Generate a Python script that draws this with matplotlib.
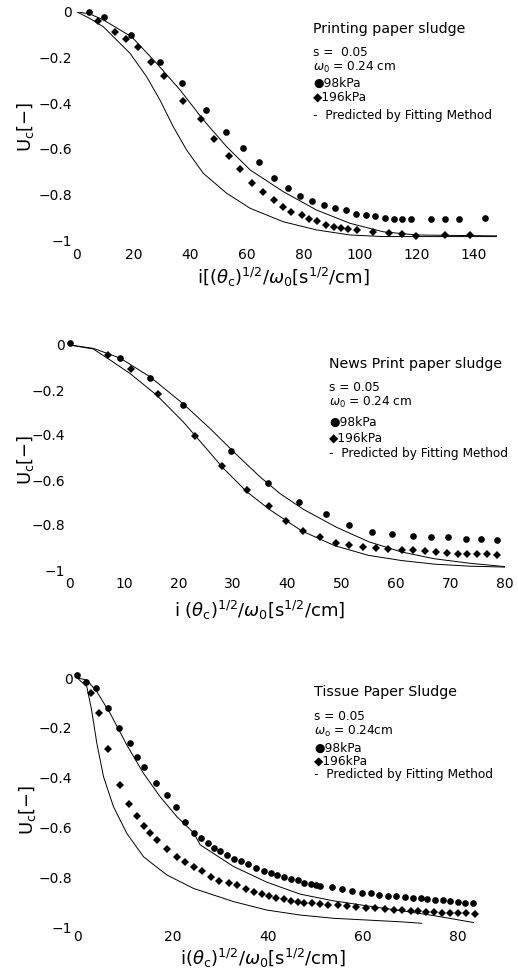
import matplotlib
matplotlib.use("Agg")
import matplotlib.pyplot as plt

plt.rcParams['font.family'] = ['DejaVu Sans']
plt.rcParams['mathtext.fontset'] = 'dejavusans'

# Printing paper sludge
p1_98_x = [4.5, 9.8, 19.2, 29.4, 37.1, 45.5, 52.6, 58.8, 64.5, 69.6, 74.5, 78.9, 83.2, 87.3,
           91.2, 94.9, 98.6, 102.0, 105.4, 108.7, 112.0, 114.9, 117.9, 125.1, 130.0, 134.9, 144.2]
p1_98_y = [0, -0.025, -0.102, -0.22, -0.311, -0.431, -0.526, -0.599, -0.66, -0.727, -0.771, -0.806,
           -0.829, -0.845, -0.861, -0.87, -0.886, -0.892, -0.896, -0.902, -0.907, -0.907, -0.907,
           -0.907, -0.907, -0.907, -0.905]
p1_196_x = [7.4, 13.5, 17.5, 21.6, 26.1, 30.7, 37.4, 43.8, 48.6, 53.8, 57.6, 61.8, 65.9, 69.6,
            72.7, 75.8, 79.6, 82.1, 84.9, 88.0, 90.8, 93.2, 95.9, 98.8, 104.7, 110.3, 114.9,
            119.8, 130.0, 138.8]
p1_196_y = [-0.039, -0.089, -0.119, -0.153, -0.222, -0.282, -0.391, -0.472, -0.559, -0.631, -0.69,
            -0.749, -0.791, -0.825, -0.854, -0.876, -0.892, -0.909, -0.915, -0.933, -0.942, -0.946,
            -0.953, -0.956, -0.964, -0.968, -0.974, -0.982, -0.978, -0.98]
p1_fit98_x = [0, 4.7, 9.4, 19.4, 28.2, 36.5, 44.7, 52.9, 61.2, 72.9, 84.7, 96.5, 108.2, 120, 148.2]
p1_fit98_y = [0, -0.01, -0.036, -0.11, -0.226, -0.343, -0.474, -0.591, -0.693, -0.788, -0.869,
              -0.927, -0.964, -0.978, -0.982]
p1_fit196_x = [0, 4.7, 9.4, 18.8, 24.7, 29.4, 34.1, 38.8, 44.7, 52.9, 61.2, 72.9, 84.7, 96.5,
               108.2, 148.2]
p1_fit196_y = [0, -0.03, -0.066, -0.182, -0.285, -0.387, -0.504, -0.606, -0.708, -0.795, -0.861,
               -0.92, -0.956, -0.978, -0.985, -0.985]

# News print paper sludge
p2_98_x = [0, 9.2, 14.7, 20.8, 29.6, 36.5, 42.1, 47.0, 51.3, 55.6, 59.3, 63.0, 66.3, 69.6, 72.8,
           75.6, 78.5]
p2_98_y = [0.01, -0.059, -0.148, -0.267, -0.471, -0.615, -0.696, -0.751, -0.80, -0.83, -0.841,
           -0.847, -0.852, -0.855, -0.861, -0.864, -0.867]
p2_196_x = [7.0, 11.2, 16.1, 23.0, 28.0, 32.6, 36.6, 39.7, 42.9, 46.0, 48.9, 51.4, 53.8, 56.3,
            58.5, 61.0, 63.0, 65.2, 67.3, 69.3, 71.3, 73.1, 74.9, 76.7, 78.5]
p2_196_y = [-0.044, -0.107, -0.216, -0.403, -0.538, -0.646, -0.714, -0.782, -0.825, -0.855, -0.879,
            -0.89, -0.899, -0.904, -0.908, -0.911, -0.913, -0.916, -0.919, -0.923, -0.929, -0.93,
            -0.93, -0.93, -0.933]
p2_fit98_x = [0, 4.3, 9.2, 14.7, 20.8, 25.7, 30.7, 34.9, 38.6, 42.9, 49.0, 55.0, 61.0, 67.0, 73.5, 80]
p2_fit98_y = [0, -0.015, -0.058, -0.141, -0.261, -0.37, -0.489, -0.585, -0.66, -0.73, -0.81,
              -0.875, -0.92, -0.95, -0.97, -0.985]
p2_fit196_x = [0, 4.3, 7.4, 11.0, 15.9, 20.8, 24.5, 28.2, 32.5, 36.8, 42.6, 48.7, 54.9, 61.0,
               67.0, 73.5, 80]
p2_fit196_y = [0, -0.018, -0.067, -0.126, -0.222, -0.341, -0.444, -0.548, -0.652, -0.733, -0.826,
               -0.892, -0.935, -0.958, -0.974, -0.983, -0.987]

# Tissue paper sludge
p3_98_x = [0, 1.8, 3.9, 6.5, 8.8, 11.1, 12.6, 14.1, 16.5, 18.8, 20.7, 22.6, 24.4, 26.0, 27.5,
           28.8, 29.9, 31.4, 32.8, 34.3, 35.9, 37.6, 39.2, 40.6, 42.0, 43.4, 44.8, 46.3, 47.6,
           49.0, 50.2, 50.9, 53.4, 55.5, 57.6, 59.7, 61.6, 63.4, 65.3, 67.0, 68.8, 70.5, 72.1,
           73.5, 75.1, 76.7, 78.2, 80.0, 81.4, 83.0]
p3_98_y = [0.012, -0.015, -0.041, -0.122, -0.202, -0.26, -0.316, -0.359, -0.42, -0.47, -0.517,
           -0.58, -0.624, -0.644, -0.661, -0.684, -0.695, -0.711, -0.725, -0.736, -0.745, -0.764,
           -0.775, -0.783, -0.791, -0.80, -0.807, -0.812, -0.823, -0.828, -0.831, -0.836, -0.841,
           -0.849, -0.856, -0.863, -0.865, -0.871, -0.876, -0.877, -0.881, -0.884, -0.885, -0.888,
           -0.892, -0.893, -0.897, -0.90, -0.903, -0.905]
p3_196_x = [2.8, 4.6, 6.5, 9.0, 10.9, 12.6, 14.1, 15.3, 16.7, 18.9, 20.9, 22.6, 24.4, 26.1, 28.0,
            29.8, 31.8, 33.6, 35.4, 37.1, 38.7, 40.3, 41.8, 43.4, 44.8, 46.3, 47.6, 49.2, 50.9,
            52.7, 54.7, 56.7, 58.6, 60.7, 62.6, 64.6, 66.5, 68.2, 70.0, 71.6, 73.3, 74.9, 76.5,
            78.2, 80.0, 81.7, 83.5]
p3_196_y = [-0.062, -0.139, -0.286, -0.43, -0.508, -0.554, -0.593, -0.624, -0.651, -0.688, -0.72,
            -0.74, -0.758, -0.775, -0.798, -0.814, -0.823, -0.833, -0.847, -0.86, -0.867, -0.876,
            -0.883, -0.889, -0.895, -0.901, -0.903, -0.905, -0.909, -0.912, -0.913, -0.916, -0.919,
            -0.924, -0.924, -0.929, -0.932, -0.933, -0.936, -0.937, -0.938, -0.94, -0.943, -0.943,
            -0.944, -0.945, -0.947]
p3_fit98_x = [0, 2.0, 4.1, 6.9, 10.4, 13.9, 17.4, 20.9, 24.4, 25.8, 32.8, 39.8, 46.8, 53.8, 60.8,
              67.8, 74.8, 83.2]
p3_fit98_y = [0, -0.008, -0.055, -0.142, -0.269, -0.383, -0.477, -0.557, -0.621, -0.67, -0.757,
              -0.82, -0.868, -0.895, -0.915, -0.934, -0.954, -0.982]
p3_fit196_x = [0, 2.0, 3.0, 4.1, 5.5, 7.6, 10.4, 13.9, 18.8, 24.4, 32.8, 39.8, 46.8, 53.8, 60.8,
               67.8, 72.3]
p3_fit196_y = [0, -0.035, -0.128, -0.262, -0.396, -0.517, -0.624, -0.718, -0.791, -0.845, -0.898,
               -0.932, -0.952, -0.965, -0.972, -0.979, -0.985]

y_ticks = [0, -0.2, -0.4, -0.6, -0.8, -1]
y_ticklabels = ['0', '\u22120.2', '\u22120.4', '\u22120.6', '\u22120.8', '\u22121']

W, H = 518, 971
fig = plt.figure(figsize=(W / 100, H / 100), dpi=100)


def px_rect(left, top, width, height):
    return [left / W, 1 - (top + height) / H, width / W, height / H]


def ftext(x, y, s, **kw):
    fig.text(x / W, 1 - y / H, s, **kw)


def panel(rect, xlim, xticks, xpad, d98, d196, fit98, fit196, xlabel, xl_pos, yl_pos,
          legend, leg_x, leg_y):
    ax = fig.add_axes(px_rect(*rect))
    ax.plot(fit98[0], fit98[1], color='black', lw=0.7)
    ax.plot(fit196[0], fit196[1], color='black', lw=0.7)
    ax.plot(d98[0], d98[1], 'o', color='black', ms=4.8, mew=0, clip_on=False)
    ax.plot(d196[0], d196[1], 'D', color='black', ms=4.0, mew=0, clip_on=False)
    ax.set_xlim(*xlim)
    ax.set_ylim(-1, 0)
    ax.set_xticks(xticks)
    ax.set_xticklabels([str(t) for t in xticks])
    ax.set_yticks(y_ticks)
    ax.set_yticklabels(y_ticklabels)
    for sp in ax.spines.values():
        sp.set_visible(False)
    ax.tick_params(axis='x', length=0, pad=xpad, labelsize=10)
    ax.tick_params(axis='y', length=0, pad=3.5, labelsize=10)
    ftext(xl_pos[0], xl_pos[1], xlabel, fontsize=13, ha='center', va='center')
    ftext(yl_pos[0], yl_pos[1], r'U$_{\rm c}$[$-$]', fontsize=13, ha='center', va='center',
          rotation=90)
    sizes = [10.2, 8.7, 8.7, 8.7, 8.7, 8.7]
    for s, y, fs in zip(legend, leg_y, sizes):
        ftext(leg_x, y, s, fontsize=fs, ha='left', va='center')
    return ax


panel((76.7, 11.7, 420.7, 228.3), (0, 148.5), list(range(0, 141, 20)), 6,
      (p1_98_x, p1_98_y), (p1_196_x, p1_196_y), (p1_fit98_x, p1_fit98_y),
      (p1_fit196_x, p1_fit196_y),
      r'i[($\theta_{\rm c}$)$^{1/2}$/$\omega_{\rm 0}$[s$^{1/2}$/cm]', (283, 277), (25, 127),
      ['Printing paper sludge', 's =  0.05', r'$\omega_0$ = 0.24 cm', '\u25cf98kPa',
       '\u25c6196kPa', '-  Predicted by Fitting Method'],
      313, [29, 52, 67, 83, 97, 115])

panel((70, 345, 435, 225), (0, 80), list(range(0, 81, 10)), 4.7,
      (p2_98_x, p2_98_y), (p2_196_x, p2_196_y), (p2_fit98_x, p2_fit98_y),
      (p2_fit196_x, p2_fit196_y),
      r'i ($\theta_{\rm c}$)$^{1/2}$/$\omega_{\rm 0}$[s$^{1/2}$/cm]', (260, 610), (25, 460),
      ['News Print paper sludge', 's = 0.05', r'$\omega_0$ = 0.24 cm', '\u25cf98kPa',
       '\u25c6196kPa', '-  Predicted by Fitting Method'],
      329, [364, 387, 402, 422, 438, 454])

panel((77.3, 678, 404.8, 249), (0, 85), list(range(0, 81, 20)), 2.5,
      (p3_98_x, p3_98_y), (p3_196_x, p3_196_y), (p3_fit98_x, p3_fit98_y),
      (p3_fit196_x, p3_fit196_y),
      r'i($\theta_{\rm c}$)$^{1/2}$/$\omega_{\rm 0}$[s$^{1/2}$/cm]', (263, 958), (27, 810),
      ['Tissue Paper Sludge', 's = 0.05', r'$\omega_{\rm o}$ = 0.24cm', '\u25cf98kPa',
       '\u25c6196kPa', '-  Predicted by Fitting Method'],
      314, [692, 716, 731, 748, 761, 774])

fig.savefig('out.png', dpi=100)
